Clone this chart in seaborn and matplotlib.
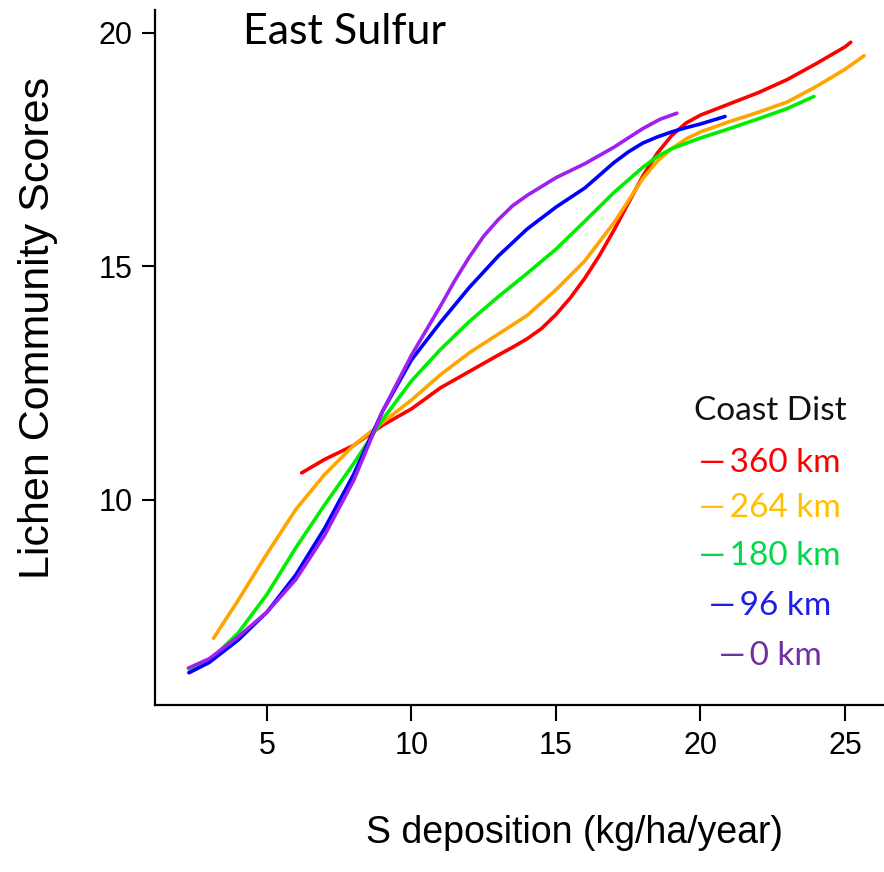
import matplotlib
matplotlib.use("Agg")
import matplotlib.pyplot as plt
import pandas as pd
import seaborn as sns

# Smoothed lichen community score vs. sulfur deposition, one curve per coast distance
dep_360 = [6.2, 7.0, 8.0, 9.0, 10.0, 11.0, 12.0, 13.0, 13.5, 14.0, 14.5, 15.0, 15.5, 16.0, 16.5,
           17.0, 17.5, 18.0, 18.5, 19.0, 19.5, 20.0, 21.0, 22.0, 23.0, 24.0, 25.0, 25.2]
score_360 = [10.58, 10.87, 11.17, 11.6, 11.95, 12.4, 12.75, 13.1, 13.27, 13.45, 13.67, 13.97, 14.33, 14.75, 15.23,
             15.77, 16.35, 16.93, 17.42, 17.8, 18.07, 18.24, 18.48, 18.72, 19.0, 19.34, 19.7, 19.8]

dep_264 = [3.15, 4.0, 5.0, 6.0, 7.0, 8.0, 9.0, 10.0, 11.0, 12.0, 13.0, 14.0, 15.0, 16.0,
           17.0, 17.5, 18.0, 18.5, 19.0, 19.5, 20.0, 21.0, 22.0, 23.0, 24.0, 25.0, 25.66]
score_264 = [7.04, 7.85, 8.85, 9.8, 10.55, 11.17, 11.66, 12.14, 12.68, 13.15, 13.55, 13.95, 14.5, 15.12,
             15.93, 16.4, 16.88, 17.25, 17.52, 17.73, 17.88, 18.1, 18.3, 18.52, 18.85, 19.22, 19.51]

dep_180 = [2.3, 3.0, 4.0, 5.0, 6.0, 7.0, 8.0, 9.0, 10.0, 11.0, 12.0, 13.0, 14.0, 15.0,
           16.0, 17.0, 18.0, 18.5, 19.0, 20.0, 21.0, 22.0, 23.0, 23.93]
score_180 = [6.32, 6.55, 7.15, 7.98, 8.98, 9.9, 10.78, 11.72, 12.55, 13.22, 13.82, 14.35, 14.85, 15.37,
             15.97, 16.58, 17.12, 17.35, 17.52, 17.75, 17.95, 18.16, 18.38, 18.64]

dep_96 = [2.3, 3.0, 4.0, 5.0, 6.0, 7.0, 8.0, 9.0, 10.0, 11.0, 12.0, 13.0, 14.0, 15.0,
          16.0, 17.0, 17.5, 18.0, 18.5, 19.0, 19.5, 20.0, 20.85]
score_96 = [6.3, 6.52, 7.0, 7.6, 8.4, 9.4, 10.55, 11.9, 13.0, 13.8, 14.55, 15.22, 15.8, 16.27,
            16.68, 17.22, 17.45, 17.64, 17.77, 17.88, 17.97, 18.05, 18.21]

dep_0 = [2.28, 3.0, 4.0, 5.0, 6.0, 7.0, 8.0, 9.0, 10.0, 11.0, 11.5, 12.0, 12.5, 13.0, 13.5, 14.0, 15.0,
         16.0, 17.0, 18.0, 18.6, 19.18]
score_0 = [6.4, 6.6, 7.07, 7.6, 8.3, 9.25, 10.42, 11.9, 13.1, 14.15, 14.7, 15.2, 15.65, 16.0, 16.3, 16.52, 16.9,
           17.2, 17.55, 17.95, 18.15, 18.28]

coast_labels = ["360 km", "264 km", "180 km", "96 km", "0 km"]
line_colors = ["#FF0000", "#FFA500", "#00EE00", "#0000FF", "#A020F0"]
label_colors = ["#FF0000", "#FFC000", "#00D84A", "#1E1EE6", "#7030A0"]

x_ticks = [5, 10, 15, 20, 25]
y_ticks = [10, 15, 20]

series = [(dep_360, score_360), (dep_264, score_264), (dep_180, score_180),
          (dep_96, score_96), (dep_0, score_0)]
frames = []
for lab, (xs, ys) in zip(coast_labels, series):
    frames.append(pd.DataFrame({"deposition": xs, "score": ys, "coast": lab}))
df = pd.concat(frames, ignore_index=True)

sns.set_style("ticks")
plt.rcParams["font.family"] = ["Liberation Sans", "DejaVu Sans"]

W, H = 884, 872
fig = plt.figure(figsize=(W / 100, H / 100), dpi=100)
ax = fig.add_axes([154.5 / W, 1 - 705 / H, (W - 154.5) / W, (705 - 10) / H])

sns.lineplot(data=df, x="deposition", y="score", hue="coast",
             palette=dict(zip(coast_labels, line_colors)), hue_order=coast_labels,
             estimator=None, sort=False, legend=False, linewidth=2.6, ax=ax)
for ln in ax.get_lines():
    ln.set_solid_joinstyle("round")
    ln.set_solid_capstyle("round")

ax.set_xlim(1.107, 26.35)
ax.set_ylim(5.61, 20.49)
ax.set_xticks(x_ticks)
ax.set_yticks(y_ticks)
ax.set_xlabel("")
ax.set_ylabel("")
for s in ["top", "right"]:
    ax.spines[s].set_visible(False)
for s in ["left", "bottom"]:
    ax.spines[s].set_linewidth(1.6)
    ax.spines[s].set_color("black")
ax.tick_params(axis="x", direction="out", length=11.5, width=1.5, pad=7,
               labelsize=22, colors="black")
ax.tick_params(axis="y", direction="out", length=9.5, width=1.5, pad=6,
               labelsize=22, colors="black")

fig.text(38 / W, 1 - 328 / H, "Lichen Community Scores", rotation=90,
         ha="center", va="center", fontsize=31, color="black")
fig.text(574 / W, 1 - 843 / H, "S deposition (kg/ha/year)", ha="center",
         va="baseline", fontsize=27, color="black")

fig.text(243 / W, 1 - 44 / H, "East Sulfur", ha="left", va="baseline",
         fontsize=31, family=["Lato", "DejaVu Sans"], color="black")

# Coast-distance key, centred in a column on the right
key_x = 770 / W
fig.text(key_x, 1 - 420 / H, "Coast Dist", ha="center", va="baseline",
         fontsize=24, family=["Lato", "DejaVu Sans"], color="#111111")
for lab, col, base in zip(coast_labels, label_colors, [472, 517, 565, 615, 665]):
    fig.text(key_x, 1 - base / H, "\u2014\u2009" + lab, ha="center", va="baseline",
             fontsize=24, family=["Lato", "DejaVu Sans"], color=col)

fig.savefig("out.png", dpi=100)
